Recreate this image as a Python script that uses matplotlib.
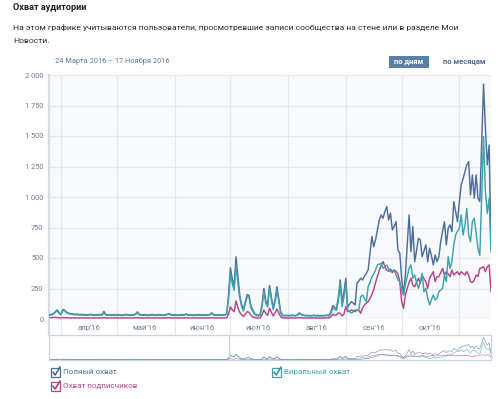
import matplotlib
matplotlib.use("Agg")
import matplotlib.pyplot as plt
import numpy as np
import pandas as pd
from matplotlib.lines import Line2D
from matplotlib.patches import Rectangle

# --- daily reach, 24 Mar 2016 .. 18 Nov 2016 ---
full_mar = [30, 32, 35, 38, 45, 60, 75, 50]
full_apr = [40, 78, 72, 55, 48, 45, 42, 40, 38, 40, 36, 38, 35, 37, 34, 36, 38, 35, 33, 36,
            34, 38, 35, 62, 38, 34, 36, 33, 35, 34]
full_may = [33, 36, 34, 32, 35, 38, 34, 33, 36, 35, 40, 58, 38, 35, 33, 36, 34, 32, 35, 37,
            34, 33, 36, 35, 34, 32, 35, 38, 45, 36, 34]
full_jun = [33, 35, 32, 34, 36, 33, 42, 35, 33, 34, 32, 35, 33, 36, 34, 32, 35, 33, 34, 38,
            50, 36, 34, 33, 35, 32, 34, 36, 40, 200]
full_jul = [420, 330, 270, 510, 350, 197, 120, 75, 140, 200, 195, 110, 74, 45, 33, 30, 35, 120,
            250, 150, 115, 275, 180, 90, 160, 265, 160, 60, 30, 28, 30]
full_aug = [30, 28, 32, 30, 28, 35, 50, 40, 32, 30, 28, 30, 27, 29, 31, 28, 30, 27, 29, 28,
            30, 32, 28, 60, 110, 95, 85, 180, 320, 142, 220]
full_sep = [334, 101, 120, 142, 130, 115, 293, 310, 334, 320, 350, 374, 402, 538, 675, 593,
            650, 730, 812, 853, 826, 880, 921, 812, 867, 730, 760, 798, 566, 540]
full_oct = [330, 200, 361, 600, 853, 552, 757, 470, 560, 662, 648, 511, 560, 607, 470, 580,
            520, 443, 525, 470, 511, 634, 720, 798, 607, 744, 771, 716, 962, 880, 798]
full_nov = [962, 1099, 1150, 1208, 1263, 1290, 1017, 1181, 990, 1181, 990, 962, 1454, 1925,
            1564, 1263, 1427, 580]

viral_mar = [27, 29, 31, 34, 40, 55, 70, 45]
viral_apr = [36, 72, 66, 50, 44, 41, 38, 36, 34, 36, 32, 34, 31, 33, 30, 32, 34, 31, 29, 32,
             30, 34, 31, 57, 34, 30, 32, 29, 31, 30]
viral_may = [29, 32, 30, 28, 31, 34, 30, 29, 32, 31, 36, 53, 34, 31, 29, 32, 30, 28, 31, 33,
             30, 29, 32, 31, 30, 28, 31, 34, 41, 32, 30]
viral_jun = [29, 31, 28, 30, 32, 29, 38, 31, 29, 30, 28, 31, 29, 32, 30, 28, 31, 29, 30, 34,
             46, 32, 30, 29, 31, 28, 30, 32, 36, 170]
viral_jul = [370, 290, 235, 440, 300, 175, 105, 65, 125, 180, 175, 95, 62, 38, 28, 26, 30, 105,
             220, 130, 100, 250, 160, 78, 140, 235, 140, 50, 26, 25, 27]
viral_aug = [26, 25, 28, 27, 25, 31, 45, 36, 28, 27, 25, 27, 24, 26, 28, 25, 27, 24, 26, 25,
             27, 28, 25, 50, 85, 80, 70, 150, 293, 101, 180]
viral_sep = [279, 74, 60, 49, 60, 74, 70, 74, 183, 197, 170, 142, 265, 300, 347, 370, 402, 443,
             450, 456, 415, 430, 443, 410, 388, 395, 402, 360, 320, 306]
viral_oct = [240, 197, 279, 350, 415, 443, 334, 361, 300, 251, 306, 374, 224, 251, 170, 115,
             160, 197, 156, 170, 224, 240, 251, 361, 306, 511, 415, 470, 607, 689, 720]
viral_nov = [744, 853, 689, 771, 907, 689, 634, 798, 826, 700, 580, 520, 1000, 1495, 1044, 867,
             990, 550]

subs_mar = [8, 9, 10, 11, 12, 14, 12, 10]
subs_apr = [9, 12, 11, 10, 9, 9, 8, 9, 8, 9, 8, 9, 8, 8, 9, 8, 9, 8, 8, 9, 8, 9, 8, 11, 9, 8,
            9, 8, 8, 9]
subs_may = [8, 9, 8, 8, 9, 9, 8, 8, 9, 8, 9, 11, 9, 8, 8, 9, 8, 8, 9, 9, 8, 8, 9, 8, 8, 8, 9,
            9, 10, 9, 8]
subs_jun = [8, 9, 8, 8, 9, 8, 10, 9, 8, 8, 8, 9, 8, 9, 8, 8, 9, 8, 8, 9, 11, 9, 8, 8, 9, 8, 8,
            9, 10, 40]
subs_jul = [100, 75, 60, 148, 95, 55, 35, 20, 40, 60, 55, 30, 18, 12, 9, 8, 10, 35, 74, 45, 30,
            88, 55, 25, 50, 82, 48, 18, 9, 8, 9]
subs_aug = [8, 8, 9, 8, 8, 9, 12, 10, 9, 8, 8, 9, 8, 8, 9, 8, 8, 8, 8, 8, 9, 9, 8, 20, 40, 30,
            35, 50, 47, 25, 40]
subs_sep = [101, 60, 65, 74, 68, 60, 74, 70, 47, 90, 115, 130, 142, 170, 200, 240, 300, 350,
            400, 440, 470, 430, 400, 390, 410, 380, 400, 390, 370, 306]
subs_oct = [142, 88, 197, 251, 300, 334, 279, 265, 300, 334, 292, 361, 330, 306, 251, 334, 360,
            388, 306, 347, 347, 380, 415, 361, 388, 370, 347, 402, 361, 375, 388]
subs_nov = [361, 388, 375, 361, 388, 361, 306, 300, 320, 361, 347, 415, 420, 429, 388, 429, 443,
            224]

full = full_mar + full_apr + full_may + full_jun + full_jul + full_aug + full_sep + full_oct + full_nov
viral = (viral_mar + viral_apr + viral_may + viral_jun + viral_jul + viral_aug + viral_sep
         + viral_oct + viral_nov)
subs = subs_mar + subs_apr + subs_may + subs_jun + subs_jul + subs_aug + subs_sep + subs_oct + subs_nov
dates = pd.date_range("2016-03-24", periods=len(full), freq="D")

month_labels = ["апр'16", "май'16", "июн'16", "июл'16", "авг'16", "сен'16", "окт'16"]
y_ticks = [0, 250, 500, 750, 1000, 1250, 1500, 1750, 2000]

C_FULL = "#4d6e9d"
C_VIRAL = "#3ea3ad"
C_SUBS = "#b7458c"
GRID = "#e4e8ee"
TXT = "#6b7d92"

W, H = 499, 399
plt.rcParams["font.family"] = ["Roboto", "DejaVu Sans"]


def box(l, t, r, b):
    return [l / W, 1 - b / H, (r - l) / W, (b - t) / H]


fig = plt.figure(figsize=(W / 100, H / 100), dpi=100, facecolor="white")

x0 = pd.Timestamp("2016-03-25 13:00")
x1 = dates[-1]
month_starts = pd.date_range("2016-04-01", "2016-11-01", freq="MS")

# --- main chart ---
ax = fig.add_axes(box(49, 75, 491, 319))
ax.set_facecolor("#f8f9fb")
ax.plot(dates, full, color=C_FULL, lw=1.05, zorder=3)
ax.plot(dates, subs, color=C_SUBS, lw=1.05, zorder=4)
ax.plot(dates, viral, color=C_VIRAL, lw=1.05, zorder=5)
ax.set_xlim(x0, x1)
ax.set_ylim(0, 2000)
ax.set_yticks(y_ticks, [f"{v:,}".replace(",", " ") for v in y_ticks])
ax.set_xticks([])
for v in y_ticks:
    ax.axhline(v, color=GRID, lw=0.9, zorder=1)
for m in month_starts:
    ax.axvline(m, color=GRID, lw=0.9, zorder=1)
ax.tick_params(axis="y", length=0, labelsize=5.3, labelcolor=TXT, pad=4)
for s in ["top", "right", "bottom"]:
    ax.spines[s].set_visible(False)
ax.spines["left"].set_color("#d4dbe4")
ax.spines["left"].set_linewidth(1.6)

# --- month label band ---
band = fig.add_axes(box(49, 319, 491, 335))
band.set_xlim(x0, x1)
band.set_ylim(0, 1)
for m in month_starts:
    band.axvline(m, color=GRID, lw=0.9)
mids = [m + pd.Timedelta(days=15) for m in month_starts[:-1]]
for d, lab in zip(mids, month_labels):
    band.text(d, 0.45, lab, ha="center", va="center", fontsize=5.6, color=TXT)
band.set_xticks([])
band.set_yticks([])
for s in band.spines.values():
    s.set_visible(False)
band.spines["left"].set_visible(True)
band.spines["left"].set_color("#d4dbe4")
band.spines["left"].set_linewidth(1.6)

# --- navigator ---
nav = fig.add_axes(box(49, 335, 491, 360))
nav.plot(dates, full, color=C_FULL, lw=0.45, alpha=0.75)
nav.plot(dates, subs, color=C_SUBS, lw=0.45, alpha=0.75)
nav.plot(dates, viral, color=C_VIRAL, lw=0.45, alpha=0.75)
nav.set_xlim(x0, x1)
nav.set_ylim(0, 2100)
nav.axvline(pd.Timestamp("2016-06-30"), color="#c3cdd9", lw=0.9)
nav.set_xticks([])
nav.set_yticks([])
for s in nav.spines.values():
    s.set_color("#cbd4df")
    s.set_linewidth(0.9)

# --- header texts ---
fig.text(13 / W, 1 - 7.5 / H, "Охват аудитории", fontsize=6.6, fontweight="bold",
         color="#222222", va="center")
fig.text(13 / W, 1 - 27.5 / H,
         "На этом графике учитываются пользователи, просмотревшие записи сообщества на стене или в разделе Мои",
         fontsize=6.1, color="#2b2b2b", va="center")
fig.text(13 / W, 1 - 41 / H, "Новости.", fontsize=6.1, color="#2b2b2b", va="center")
fig.text(55 / W, 1 - 61 / H, "24 Марта 2016 – 17 Ноября 2016", fontsize=5.3, color="#5a7aa1",
         va="center")
fig.add_artist(Rectangle((389 / W, 1 - 67.5 / H), 40 / W, 12 / H, transform=fig.transFigure,
                         facecolor="#5d7fa6", edgecolor="none"))
fig.text(409 / W, 1 - 61.5 / H, "по дням", fontsize=5.4, fontweight="bold", color="white",
         ha="center", va="center")
fig.text(464 / W, 1 - 61.5 / H, "по месяцам", fontsize=5.4, fontweight="bold", color="#4a6d96",
         ha="center", va="center")

# --- legend with check boxes ---
legend_items = [("Полный охват", C_FULL, "#45648f", 51, 372),
                ("Виральный охват", C_VIRAL, "#2f8f99", 272, 372),
                ("Охват подписчиков", C_SUBS, "#a23a7a", 51, 386)]
for label, col, dark, lx, ly in legend_items:
    fig.add_artist(Rectangle((lx / W, 1 - (ly + 4.5) / H), 9 / W, 9 / H,
                             transform=fig.transFigure, facecolor="white", edgecolor=col,
                             lw=0.9))
    fig.add_artist(Line2D([(lx + 2) / W, (lx + 4.2) / W, (lx + 9) / W],
                          [1 - (ly + 0.3) / H, 1 - (ly + 3) / H, 1 - (ly - 5) / H],
                          transform=fig.transFigure, color=dark, lw=1.1))
    fig.text((lx + 12) / W, 1 - ly / H, label, fontsize=5.8, color=col, va="center")

fig.savefig("out.png", dpi=100, facecolor="white")
